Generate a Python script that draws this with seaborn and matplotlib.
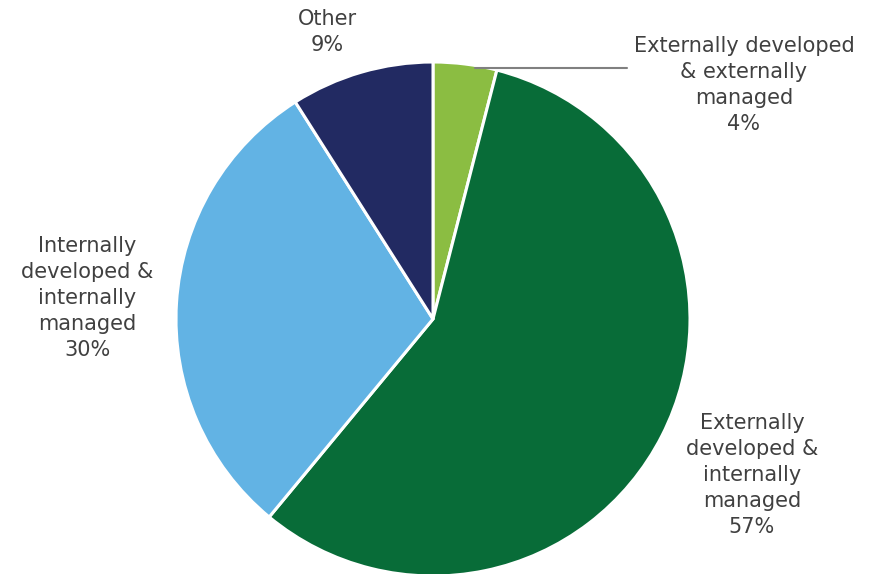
import matplotlib
matplotlib.use("Agg")
import matplotlib.pyplot as plt
import seaborn as sns

categories = ["Externally developed\n& externally\nmanaged",
              "Externally\ndeveloped &\ninternally\nmanaged",
              "Internally\ndeveloped &\ninternally\nmanaged",
              "Other"]
values = [4, 57, 30, 9]
colors = ["#8BBD42", "#086C38", "#62B3E4", "#222A62"]

sns.set_theme(style="white")
plt.rcParams['font.family'] = ['DejaVu Sans']

W, H = 881, 574
fig = plt.figure(figsize=(W / 100, H / 100), dpi=100)
ax = fig.add_axes([0, 0, 1, 1])

cx, cy, r = 433, 255, 257
ax.pie(values, colors=colors, startangle=90, counterclock=False,
       radius=r, center=(cx, cy), frame=True,
       wedgeprops=dict(edgecolor="white", linewidth=2.2))
ax.set_xlim(0, W)
ax.set_ylim(0, H)
ax.set_aspect('equal')
ax.axis('off')

txt = dict(fontsize=15, color="#404040", ha="center", va="center", linespacing=1.36)
label_pos = [(744, 489), (752, 99), (87, 276), (327, 542)]
for cat, v, (x, y) in zip(categories, values, label_pos):
    ax.text(x, y, f"{cat}\n{v}%", **txt)

ax.plot([475, 627], [506, 506], color="#808080", linewidth=1.5)

fig.savefig("out.png", dpi=100)
